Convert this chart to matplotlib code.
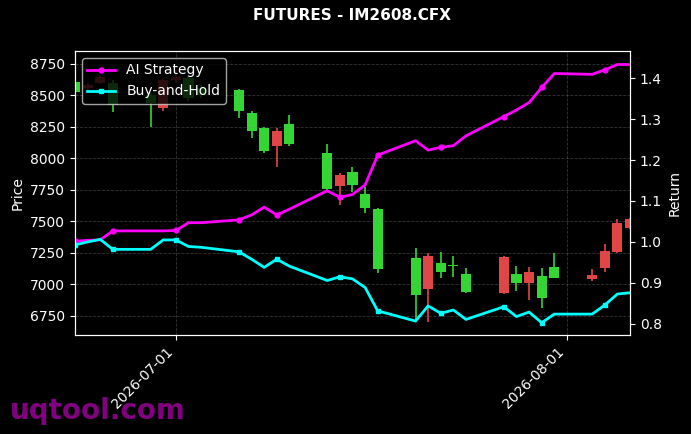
import numpy as np
import pandas as pd
import matplotlib
matplotlib.use("Agg")
from matplotlib import pyplot as plt
import matplotlib.dates as mdates
from matplotlib.ticker import MultipleLocator

# daily bars (red = close above open, green = close below open)
dates = pd.to_datetime([
    "2026-06-23", "2026-06-24", "2026-06-25", "2026-06-26", "2026-06-29", "2026-06-30",
    "2026-07-01", "2026-07-02", "2026-07-03", "2026-07-06", "2026-07-07", "2026-07-08",
    "2026-07-09", "2026-07-10", "2026-07-13", "2026-07-14", "2026-07-15", "2026-07-16",
    "2026-07-17", "2026-07-20", "2026-07-21", "2026-07-22", "2026-07-23", "2026-07-24",
    "2026-07-27", "2026-07-28", "2026-07-29", "2026-07-30", "2026-07-31", "2026-08-03",
    "2026-08-04", "2026-08-05", "2026-08-06",
])
opens = [8607, 8560, 8600, 8600, 8500, 8400, 8620, 8640, 8560, 8544, 8363, 8242,
         8102, 8274, 8044, 7782, 7893, 7718, 7599, 7213, 6964, 7173, 7152, 7083,
         6930, 7083, 7015, 7067, 7139, 7041, 7133, 7255, 7450]
highs = [8620, 8600, 8660, 8620, 8520, 8640, 8700, 8660, 8580, 8550, 8379, 8250,
         8242, 8348, 8115, 7887, 7932, 7776, 7610, 7292, 7250, 7260, 7226, 7133,
         7225, 7147, 7139, 7129, 7252, 7123, 7321, 7520, 7530]
lows = [8510, 8540, 8590, 8370, 8250, 8380, 8600, 8460, 8480, 8320, 8165, 8041,
        7932, 8099, 7750, 7631, 7736, 7567, 7090, 6705, 6703, 7054, 7062, 6932,
        6925, 6950, 6877, 6811, 7049, 7030, 7102, 7248, 7440]
closes = [8528, 8585, 8645, 8425, 8440, 8620, 8650, 8480, 8500, 8377, 8221, 8059,
          8218, 8115, 7758, 7869, 7790, 7609, 7123, 6917, 7229, 7099, 7150, 6940,
          7221, 7010, 7099, 6895, 7054, 7075, 7266, 7490, 7520]

# cumulative return curves
ai_strategy = [1.002, 1.004, 1.005, 1.027, 1.027, 1.027, 1.028, 1.047, 1.047, 1.054,
               1.066, 1.085, 1.066, 1.080, 1.125, 1.109, 1.116, 1.139, 1.212, 1.247,
               1.224, 1.231, 1.235, 1.259, 1.306, 1.322, 1.340, 1.377, 1.411, 1.409,
               1.420, 1.433, 1.433]
buy_hold = [0.993, 1.000, 1.0065, 0.982, 0.982, 1.005, 1.005, 0.989, 0.987, 0.976,
            0.958, 0.938, 0.958, 0.941, 0.906, 0.915, 0.910, 0.889, 0.832, 0.807,
            0.844, 0.826, 0.834, 0.811, 0.842, 0.818, 0.829, 0.803, 0.824, 0.824,
            0.846, 0.873, 0.876]

UP = "#e04646"
DOWN = "#33d633"

plt.style.use("dark_background")
fig, ax = plt.subplots(figsize=(6.91, 4.34), dpi=100)
fig.subplots_adjust(left=0.1085, right=0.9117, top=0.8825, bottom=0.2281)

x = mdates.date2num(dates)
o, h, l, c = map(np.asarray, (opens, highs, lows, closes))
colors = np.where(c >= o, UP, DOWN)
ax.vlines(x, l, h, colors=colors, linewidth=1.2)
ax.bar(x, np.maximum(np.abs(c - o), 4), bottom=np.minimum(o, c), width=0.8, color=colors)

ax.set_ylim(6599, 8853)
ax.yaxis.set_major_locator(MultipleLocator(250))
ax.set_xlim(x[0], x[-1])
ax.set_ylabel("Price")
ax.grid(True, linestyle="--", color="gray", alpha=0.4, linewidth=0.6)
ax.xaxis.set_major_locator(mdates.MonthLocator())
ax.xaxis.set_major_formatter(mdates.DateFormatter("%Y-%m-%d"))
plt.setp(ax.get_xticklabels(), rotation=45, ha="right")

ax2 = ax.twinx()
ax2.plot(x, ai_strategy, color="#ff00ff", linewidth=2, marker="o", markersize=3.5,
         markevery=3, label="AI Strategy")
ax2.plot(x, buy_hold, color="#00ffff", linewidth=2, marker="s", markersize=3.5,
         markevery=3, label="Buy-and-Hold")
ax2.set_ylim(0.773, 1.466)
ax2.set_ylabel("Return")
ax2.legend(loc="upper left", facecolor="black", edgecolor="#cccccc", framealpha=0.8)

ax.set_title("FUTURES - IM2608.CFX", fontweight="bold", fontsize=11, pad=22)
fig.text(0.015, 0.035, "uqtool.com", color="purple", fontsize=20, fontweight="bold")

fig.savefig("out.png", dpi=100)
